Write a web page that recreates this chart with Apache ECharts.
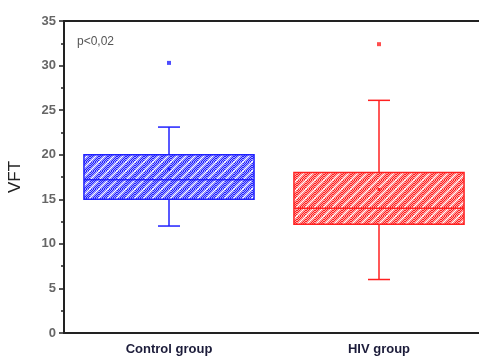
<!DOCTYPE html>
<html>
<head>
<meta charset="utf-8">
<script src="https://cdn.jsdelivr.net/npm/echarts@6/dist/echarts.min.js"></script>
<style>
html, body { margin: 0; padding: 0; background: #fff; }
#chart { width: 479px; height: 357px; }
</style>
</head>
<body>
<div id="chart"></div>
<script>
var categories = ['Control group', 'HIV group'];
// [min, q1, median, q3, max]
var boxStats = [
	[12, 15, 17.2, 20, 23.1],
	[6, 12.2, 14, 18, 26.1]
];
var means = [18.4, 16.1];
var outliers = [[0, 30.3], [1, 32.4]];
var yTicks = [0, 5, 10, 15, 20, 25, 30, 35];
var colors = ['#2020ff', '#ff2020'];

function makePattern(color){
	var c = document.createElement('canvas');
	c.width = 9; c.height = 9;
	var ctx = c.getContext('2d');
	ctx.fillStyle = color;
	ctx.fillRect(0, 0, 9, 9);
	ctx.fillStyle = 'rgba(255,255,255,0.6)';
	for(var i = 0; i < 9; i++){
		for(var j = 0; j < 9; j++){
			if((i + j) % 2 === 0) ctx.fillRect(i, j, 1, 1);
		}
	}
	ctx.strokeStyle = '#fff';
	ctx.lineWidth = 1.4;
	ctx.beginPath();
	ctx.moveTo(-1, 10); ctx.lineTo(10, -1);
	ctx.moveTo(-2, 2); ctx.lineTo(2, -2);
	ctx.moveTo(7, 11); ctx.lineTo(11, 7);
	ctx.stroke();
	return c;
}
var patterns = colors.map(makePattern);

var chart = echarts.init(document.getElementById('chart'));

var boxData = boxStats.map(function(s, i){ return [i].concat(s).concat([means[i]]); });

chart.setOption({
	animation: false,
	title: {
		text: 'p<0,02', left: 72, top: 31,
		textStyle: {fontSize: 12, fontWeight: 'normal', color: '#555', fontFamily: 'Liberation Sans'}
	},
	grid: {left: 64, width: 420, top: 21, bottom: 24, outerBoundsMode: 'none'},
	xAxis: [{
		type: 'category',
		data: categories,
		axisLine: {lineStyle: {color: '#222', width: 2}},
		axisTick: {alignWithLabel: true, length: 4, lineStyle: {color: '#222', width: 1.5}},
		axisLabel: {margin: 10, fontSize: 13, fontWeight: 'bold', color: '#1c1c3a', fontFamily: 'Liberation Sans'}
	}, {
		type: 'category',
		position: 'top',
		data: categories,
		axisLine: {lineStyle: {color: '#222', width: 2}},
		axisTick: {show: false},
		axisLabel: {show: false}
	}],
	yAxis: {
		type: 'value',
		min: yTicks[0], max: yTicks[yTicks.length - 1], interval: 5,
		name: 'VFT', nameLocation: 'middle', nameGap: 40,
		nameTextStyle: {fontSize: 17, color: '#222', fontFamily: 'Liberation Sans'},
		splitLine: {show: false},
		axisLine: {show: true, lineStyle: {color: '#222', width: 2}},
		axisTick: {show: true, length: 5, lineStyle: {color: '#222', width: 1.5}},
		minorTick: {show: true, splitNumber: 2, length: 3, lineStyle: {color: '#222', width: 1.5}},
		axisLabel: {margin: 8, fontSize: 13, fontWeight: 'bold', color: '#666', fontFamily: 'Liberation Sans'}
	},
	series: [{
		type: 'custom',
		data: boxData,
		encode: {x: 0, y: [1, 2, 3, 4, 5]},
		renderItem: function(params, api){
			var i = api.value(0);
			var col = colors[i];
			var bw = api.size([1, 0])[0] * 0.81;
			var cap = 11;
			var pMin = api.coord([i, api.value(1)]);
			var pQ1 = api.coord([i, api.value(2)]);
			var pMed = api.coord([i, api.value(3)]);
			var pQ3 = api.coord([i, api.value(4)]);
			var pMax = api.coord([i, api.value(5)]);
			var pMean = api.coord([i, api.value(6)]);
			var cx = pMed[0];
			var ls = {stroke: col, lineWidth: 1.5};
			return {
				type: 'group',
				children: [
					{type: 'rect', shape: {x: cx - bw / 2, y: pQ3[1], width: bw, height: pQ1[1] - pQ3[1]},
						style: {fill: {image: patterns[i], repeat: 'repeat'}, stroke: col, lineWidth: 1.5}},
					{type: 'line', shape: {x1: cx - bw / 2, y1: pMed[1], x2: cx + bw / 2, y2: pMed[1]}, style: ls},
					{type: 'line', shape: {x1: cx, y1: pQ3[1], x2: cx, y2: pMax[1]}, style: ls},
					{type: 'line', shape: {x1: cx, y1: pQ1[1], x2: cx, y2: pMin[1]}, style: ls},
					{type: 'line', shape: {x1: cx - cap, y1: pMax[1], x2: cx + cap, y2: pMax[1]}, style: ls},
					{type: 'line', shape: {x1: cx - cap, y1: pMin[1], x2: cx + cap, y2: pMin[1]}, style: ls},
					{type: 'rect', shape: {x: pMean[0] - 1.5, y: pMean[1] - 1.5, width: 3, height: 3}, style: {fill: col}}
				]
			};
		}
	}, {
		type: 'scatter',
		data: outliers,
		symbol: 'rect',
		symbolSize: 4,
		itemStyle: {
			color: function(p){ return colors[p.value[0]]; }
		}
	}]
});
</script>
</body>
</html>
